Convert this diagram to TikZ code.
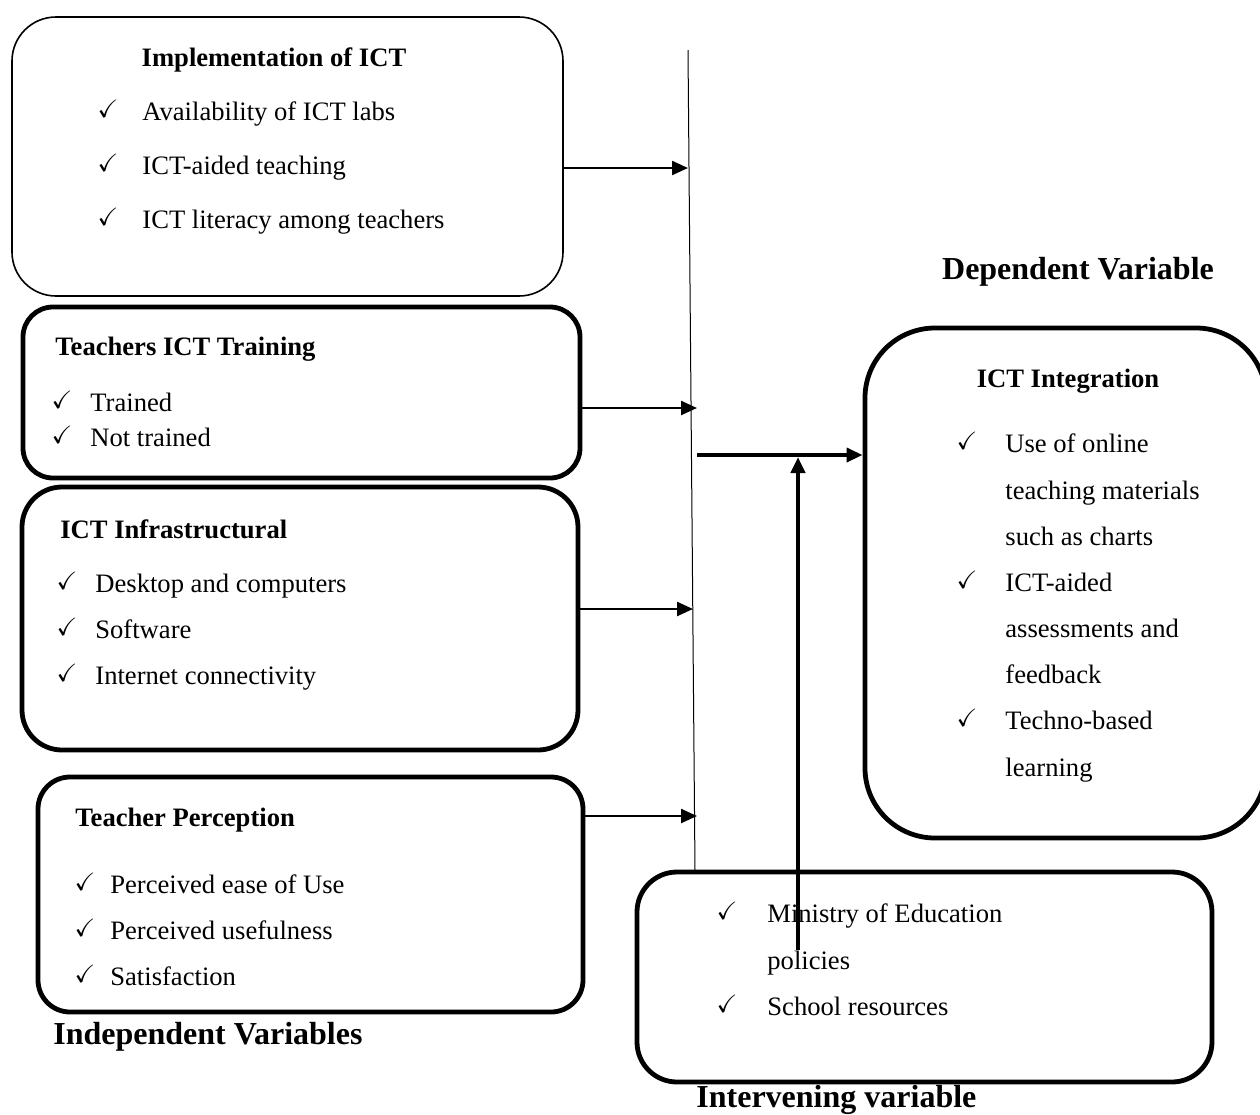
\documentclass[tikz,border=0pt]{standalone}
\usepackage{fontspec}
\setmainfont{Liberation Serif}
\usepackage{amssymb}
\usetikzlibrary{arrows.meta}
\tikzset{
  x=0.5pt, y=-0.5pt,
  >={Triangle[length=8pt,width=7pt]},
  thinbox/.style={draw, line width=0.8pt, rounded corners=22pt, inner sep=0pt},
  thickbox/.style={draw, line width=2.4pt, inner sep=0pt},
  head/.style={font=\fontsize{13.3}{16}\selectfont\bfseries, inner sep=0pt, text height=9pt, text depth=0pt},
  txt/.style={font=\fontsize{13.3}{16}\selectfont, anchor=west, inner sep=0pt, text height=9pt, text depth=0pt},
  tick/.style={font=\fontsize{12.5}{14}\selectfont, inner sep=0pt, text height=10pt, text depth=0pt, yshift=2pt},
  vartitle/.style={font=\fontsize{16}{19}\selectfont\bfseries, inner sep=0pt, text height=11pt, text depth=0pt},
  feed/.style={->, line width=1.2pt},
}

\begin{document}
\begin{tikzpicture}
  \useasboundingbox (0,0) rectangle (1260,1115);

  % independent variable boxes
  \node[thinbox, minimum width=275.5pt, minimum height=139.5pt] (impl) at (287.5,156.5) {};
  \node[thickbox, rounded corners=15pt, minimum width=278.5pt, minimum height=85.5pt] (train) at (301.5,392.5) {};
  \node[thickbox, rounded corners=20pt, minimum width=278pt, minimum height=131.5pt] (infra) at (300,618.5) {};
  \node[thickbox, rounded corners=16pt, minimum width=272.5pt, minimum height=117.5pt] (percep) at (310.5,894.5) {};

  % dependent and intervening boxes
  \node[thickbox, rounded corners=35pt, minimum width=200.5pt, minimum height=255pt] (integ) at (1065.5,583) {};
  \node[thickbox, rounded corners=20pt, minimum width=287.5pt, minimum height=105pt] (interv) at (924.5,977) {};

  % box texts
  \node[head] (implT) at (274,57) {Implementation of ICT};
  \foreach \t/\y in {Availability of ICT labs/111, ICT-aided teaching/165, ICT literacy among teachers/219}{
    \node[tick] at (108,\y) {\checkmark};
    \node[txt] at (142,\y) {\t};
  }

  \node[head, anchor=west] (trainT) at (55,346) {Teachers ICT Training};
  \foreach \t/\y in {Trained/402, Not trained/437}{
    \node[tick] at (62,\y) {\checkmark};
    \node[txt] at (90,\y) {\t};
  }

  \node[head, anchor=west] (infraT) at (60,529) {ICT Infrastructural};
  \foreach \t/\y in {Desktop and computers/583, Software/629, Internet connectivity/675}{
    \node[tick] at (67,\y) {\checkmark};
    \node[txt] at (95,\y) {\t};
  }

  \node[head, anchor=west] (percepT) at (75,817) {Teacher Perception};
  \foreach \t/\y in {Perceived ease of Use/884, Perceived usefulness/930, Satisfaction/976}{
    \node[tick] at (85,\y) {\checkmark};
    \node[txt] at (110,\y) {\t};
  }

  \node[head] (integT) at (1068,378) {ICT Integration};
  \foreach \y in {443, 582, 720}
    \node[tick] at (967,\y) {\checkmark};
  \foreach \t/\y in {Use of online/443, teaching materials/490, such as charts/536,
                     ICT-aided/582, assessments and/628, feedback/674,
                     Techno-based/720, learning/767}
    \node[txt] at (1005,\y) {\t};

  \foreach \y in {913, 1006}
    \node[tick] at (727,\y) {\checkmark};
  \foreach \t/\y in {Ministry of Education/913, policies/960, School resources/1006}
    \node[txt] at (767,\y) {\t};

  % variable titles
  \node[vartitle, anchor=west] (indepT) at (53,1033) {Independent Variables};
  \node[vartitle] (depT) at (1078,268) {Dependent Variable};
  \node[vartitle, anchor=west] (intervT) at (696,1096) {Intervening variable};

  % collecting line
  \coordinate (busTop) at (688,50);
  \coordinate (busBot) at (695,870);
  \coordinate (busA) at (688,168);
  \coordinate (busB) at (697,408);
  \coordinate (busC) at (693,609);
  \coordinate (busD) at (697,816);
  \coordinate (busM) at (697,455);
  \coordinate (joint) at (798,457);
  \coordinate (intTail) at (798,950);
  \draw[line width=0.5pt] (busTop) -- (busBot);

  \draw[feed] (impl.east |- busA) -- (busA);
  \draw[feed] (train.east |- busB) -- (busB);
  \draw[feed] (infra.east |- busC) -- (busC);
  \draw[feed] (percep.east |- busD) -- (busD);

  \draw[->, line width=1.8pt] (busM) -- (integ.west |- busM);
  \draw[->, line width=2pt] (intTail) -- (joint);
\end{tikzpicture}
\end{document}
